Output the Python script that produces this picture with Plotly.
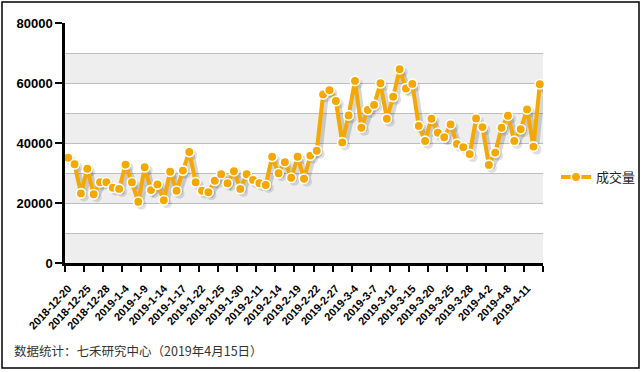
import plotly.graph_objects as go

dates = [
    "2018-12-20", "2018-12-21", "2018-12-24", "2018-12-25", "2018-12-26", "2018-12-27", "2018-12-28",
    "2019-1-2", "2019-1-3", "2019-1-4", "2019-1-7", "2019-1-8", "2019-1-9", "2019-1-10", "2019-1-11",
    "2019-1-14", "2019-1-15", "2019-1-16", "2019-1-17", "2019-1-18", "2019-1-21", "2019-1-22",
    "2019-1-23", "2019-1-24", "2019-1-25", "2019-1-28", "2019-1-29", "2019-1-30", "2019-1-31", "2019-2-1",
    "2019-2-11", "2019-2-12", "2019-2-13", "2019-2-14", "2019-2-15", "2019-2-18", "2019-2-19",
    "2019-2-20", "2019-2-21", "2019-2-22", "2019-2-25", "2019-2-26", "2019-2-27", "2019-2-28",
    "2019-3-1", "2019-3-4", "2019-3-5", "2019-3-6", "2019-3-7", "2019-3-8", "2019-3-11", "2019-3-12",
    "2019-3-13", "2019-3-14", "2019-3-15", "2019-3-18", "2019-3-19", "2019-3-20", "2019-3-21",
    "2019-3-22", "2019-3-25", "2019-3-26", "2019-3-27", "2019-3-28", "2019-3-29",
    "2019-4-1", "2019-4-2", "2019-4-3", "2019-4-4", "2019-4-8", "2019-4-9", "2019-4-10", "2019-4-11",
    "2019-4-12", "2019-4-15",
]

volume = [
    35100, 32900, 23200, 31400, 22900, 26900, 26900,
    25100, 24700, 32800, 26900, 20400, 31900, 24300, 26200,
    20900, 30400, 24100, 30800, 37000, 26900, 24100,
    23600, 27400, 29600, 26600, 30600, 24700, 29600, 27700,
    26600, 26000, 35400, 29900, 33600, 28400, 35400,
    28100, 35800, 37400, 56200, 57600, 54000, 40200,
    49200, 60700, 45100, 51000, 52700, 59900, 48100, 55400,
    64600, 58200, 59700, 45700, 40700, 48100, 43400,
    41900, 46200, 39700, 38600, 36300, 48200,
    45300, 32700, 36800, 45100, 49100, 40700, 44600, 51200,
    38800, 59600,
]

series_name = "成交量"
footer = "数据统计：七禾研究中心（2019年4月15日）"
y_ticks = [0, 20000, 40000, 60000, 80000]
band_edges = [0, 10000, 20000, 30000, 40000, 50000, 60000, 70000, 80000]

W, H = 642, 372
L, R, T, B = 65, 99, 23, 109
PW, PH = W - L - R, H - T - B

def px_x(p):
    return (p - L) / PW

def px_y(p):
    return (H - B - p) / PH

n = len(dates)
xs = list(range(n))
xr = [-0.5, n - 0.5]
yr = [0, 80000]
orange = "#F4A800"

sdx, sdy = 3, 3
x_per_px = (xr[1] - xr[0]) / PW
y_per_px = (yr[1] - yr[0]) / PH

fig = go.Figure()

fig.add_trace(go.Scatter(x=xs, y=volume, mode="lines", line=dict(width=0),
                         showlegend=False, hoverinfo="skip", xaxis="x", yaxis="y", opacity=0))

fig.add_trace(go.Scatter(x=xs, y=volume, mode="lines+markers",
                         line=dict(color="rgba(0,0,0,0.16)", width=5),
                         marker=dict(size=10, color="rgba(0,0,0,0.12)"),
                         showlegend=False, hoverinfo="skip", xaxis="x2", yaxis="y2"))

fig.add_trace(go.Scatter(x=xs, y=volume, mode="lines+markers", name=series_name,
                         line=dict(color=orange, width=4),
                         marker=dict(size=9.5, color=orange, line=dict(color="white", width=1.6)),
                         xaxis="x3", yaxis="y3", cliponaxis=False))

shapes = []
for i in range(len(band_edges) - 1):
    if i % 2 == 0:
        shapes.append(dict(type="rect", xref="paper", yref="y", x0=0, x1=1,
                           y0=band_edges[i], y1=band_edges[i + 1],
                           fillcolor="#EEEEEE", line=dict(width=0), layer="below"))
shapes.append(dict(type="rect", xref="paper", yref="paper",
                   x0=px_x(2), x1=px_x(639), y0=px_y(368), y1=px_y(2),
                   line=dict(color="black", width=1.5), fillcolor="rgba(0,0,0,0)"))

tick_idx = xs[::3]
tick_txt = dates[::3]

fig.update_layout(
    width=W, height=H,
    margin=dict(l=L, r=R, t=T, b=B, autoexpand=False),
    paper_bgcolor="white", plot_bgcolor="white",
    showlegend=True,
    legend=dict(x=px_x(556), y=px_y(177), xanchor="left", yanchor="middle",
                font=dict(family="Noto Sans CJK SC", size=13, color="#222"),
                bgcolor="rgba(0,0,0,0)", itemwidth=30),
    xaxis=dict(range=xr, tickmode="array", tickvals=tick_idx, ticktext=tick_txt,
               tickangle=-47, ticks="", showgrid=False, zeroline=False,
               showline=True, linecolor="black", linewidth=2.5,
               ticklabelstandoff=12,
               tickfont=dict(family="Arial, Liberation Sans", size=11, color="black", weight=700),
               minor=dict(tickmode="linear", tick0=-0.5, dtick=3, ticks="outside",
                          ticklen=6, tickwidth=2, tickcolor="black", showgrid=False)),
    yaxis=dict(range=yr, tickmode="array", tickvals=y_ticks, tickformat="d",
               ticks="outside", ticklen=7, tickwidth=2, tickcolor="black",
               showgrid=True, gridcolor="#BDBDBD", gridwidth=1, zeroline=False,
               showline=True, linecolor="black", linewidth=2.5,
               tickfont=dict(family="Arial, Liberation Sans", size=13, color="black", weight=700),
               minor=dict(tickmode="linear", tick0=0, dtick=10000, showgrid=True,
                          gridcolor="#BDBDBD", gridwidth=1, ticks="")),
    xaxis2=dict(overlaying="x", range=[xr[0] - sdx * x_per_px, xr[1] - sdx * x_per_px], visible=False),
    yaxis2=dict(overlaying="y", range=[yr[0] + sdy * y_per_px, yr[1] + sdy * y_per_px], visible=False),
    xaxis3=dict(overlaying="x", range=xr, visible=False),
    yaxis3=dict(overlaying="y", range=yr, visible=False),
    shapes=shapes,
    annotations=[dict(text=footer, xref="paper", yref="paper", x=px_x(12), y=px_y(350),
                      xanchor="left", yanchor="middle", showarrow=False,
                      font=dict(family="Noto Sans CJK SC", size=12.5, color="#333"))],
)

fig.write_html("out.html", config={"displayModeBar": False},
               post_script="document.body.style.margin='0';document.body.style.padding='0';")
